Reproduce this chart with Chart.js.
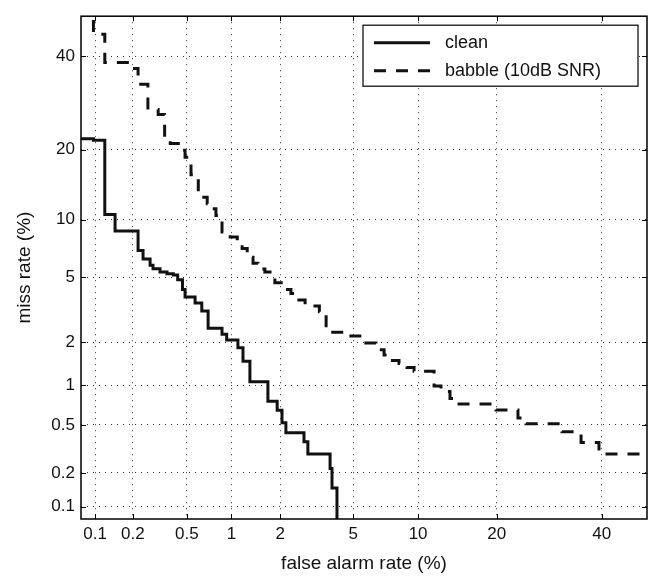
<!DOCTYPE html>
<html>
<head>
<meta charset="utf-8">
<style>
  html, body { margin: 0; padding: 0; background: #fff; }
  #wrap { width: 657px; height: 579px; }
</style>
<script src="https://cdn.jsdelivr.net/npm/chart.js@4.4.1/dist/chart.umd.min.js"></script>
</head>
<body>
<div id="wrap"><canvas id="c" width="657" height="579"></canvas></div>
<script>
// ---- data (percent) ----
const tickValues = [0.1, 0.2, 0.5, 1, 2, 5, 10, 20, 40];
const axisMin = 0.0765;
const axisMax = 50;

const seriesNames = ['clean', 'babble (10dB SNR)'];

const cleanFA   = [0.07, 0.097, 0.12, 0.145, 0.219, 0.239, 0.27, 0.284, 0.32, 0.36, 0.40, 0.43, 0.465, 0.485, 0.57, 0.634, 0.70, 0.867, 0.93, 1.10, 1.185, 1.31, 1.69, 1.92, 2.05, 2.16, 2.74, 2.88, 3.80, 3.89, 4.13];
const cleanMiss = [22.0, 21.7, 10.56, 8.78, 6.98, 6.30, 5.83, 5.57, 5.35, 5.22, 5.15, 4.83, 4.25, 3.84, 3.53, 3.16, 2.46, 2.25, 2.06, 1.83, 1.48, 1.06, 0.76, 0.65, 0.52, 0.433, 0.366, 0.29, 0.218, 0.147, 0.05];

const babbleFA   = [0.097, 0.097, 0.12, 0.193, 0.219, 0.26, 0.31, 0.346, 0.38, 0.465, 0.485, 0.534, 0.60, 0.637, 0.69, 0.72, 0.79, 0.867, 0.98, 1.09, 1.17, 1.26, 1.37, 1.47, 1.62, 1.74, 1.86, 2.13, 2.31, 2.50, 2.78, 3.33, 3.62, 4.60, 5.53, 6.46, 7.05, 7.51, 8.25, 8.95, 9.61, 11.66, 12.44, 13.5, 14.1, 19.9, 23.5, 24.9, 31.7, 35.6, 39.4, 60];
const babbleMiss = [60, 45.5, 38.5, 37.1, 33.4, 27.8, 26.8, 22.2, 21.1, 19.9, 18.7, 15.9, 13.4, 12.7, 11.85, 11.25, 10.45, 8.68, 8.21, 7.57, 7.15, 6.43, 5.97, 5.55, 5.35, 5.02, 4.65, 4.25, 4.03, 3.68, 3.39, 3.12, 2.32, 2.19, 1.97, 1.78, 1.64, 1.50, 1.43, 1.34, 1.26, 0.99, 0.90, 0.80, 0.727, 0.654, 0.567, 0.51, 0.44, 0.36, 0.29, 0.29];

// ---- normal deviate (probit) scale ----
function probit(p) {
  const a = [-3.969683028665376e+01, 2.209460984245205e+02, -2.759285104469687e+02, 1.383577518672690e+02, -3.066479806614716e+01, 2.506628277459239e+00];
  const b = [-5.447609879822406e+01, 1.615858368580409e+02, -1.556989798598866e+02, 6.680131188771972e+01, -1.328068155288572e+01];
  const c = [-7.784894002430293e-03, -3.223964580411365e-01, -2.400758277161838e+00, -2.549732539343734e+00, 4.374664141464968e+00, 2.938163982698783e+00];
  const d = [7.784695709041462e-03, 3.224671290700398e-01, 2.445134137142996e+00, 3.754408661907416e+00];
  const pl = 0.02425, ph = 1 - pl;
  let q, r;
  if (p < pl) {
    q = Math.sqrt(-2 * Math.log(p));
    return (((((c[0]*q+c[1])*q+c[2])*q+c[3])*q+c[4])*q+c[5]) / ((((d[0]*q+d[1])*q+d[2])*q+d[3])*q+1);
  }
  if (p <= ph) {
    q = p - 0.5; r = q * q;
    return (((((a[0]*r+a[1])*r+a[2])*r+a[3])*r+a[4])*r+a[5])*q / (((((b[0]*r+b[1])*r+b[2])*r+b[3])*r+b[4])*r+1);
  }
  q = Math.sqrt(-2 * Math.log(1 - p));
  return -(((((c[0]*q+c[1])*q+c[2])*q+c[3])*q+c[4])*q+c[5]) / ((((d[0]*q+d[1])*q+d[2])*q+d[3])*q+1);
}
function normcdf(z) {
  const t = 1 / (1 + 0.2316419 * Math.abs(z));
  const y = t*(0.319381530 + t*(-0.356563782 + t*(1.781477937 + t*(-1.821255978 + t*1.330274429))));
  const v = 1 - Math.exp(-z*z/2) / Math.sqrt(2*Math.PI) * y;
  return z >= 0 ? v : 1 - v;
}

class ProbitScale extends Chart.Scale {
  parse(raw) { return (raw === null || raw === undefined) ? null : +raw; }
  determineDataLimits() { this.min = this.options.min; this.max = this.options.max; }
  buildTicks() { return (this.options.tickValues || []).map(v => ({ value: v })); }
  getLabelForValue(v) { return String(v); }
  configure() {
    super.configure();
    this._z0 = probit(this.min / 100);
    this._z1 = probit(this.max / 100);
  }
  getPixelForValue(v) {
    if (v === null || v === undefined || isNaN(v)) return NaN;
    return this.getPixelForDecimal((probit(v / 100) - this._z0) / (this._z1 - this._z0));
  }
  getValueForPixel(px) {
    const dec = this.getDecimalForPixel(px);
    return 100 * normcdf(this._z0 + dec * (this._z1 - this._z0));
  }
  getPixelForTick(i) { return this.getPixelForValue(this.ticks[i].value); }
}
ProbitScale.id = 'probit';
ProbitScale.defaults = {};
Chart.register(ProbitScale);

const FONT = '"Liberation Sans", Arial, Helvetica, sans-serif';
const INK = '#111';

// inward tick marks + axes box
const framePlugin = {
  id: 'frame',
  afterDatasetsDraw(chart) {
    const { ctx, chartArea: a, scales: { x, y } } = chart;
    const L = 5;
    ctx.save();
    ctx.strokeStyle = '#000';
    ctx.lineWidth = 1;
    ctx.beginPath();
    x.ticks.forEach(t => {
      const px = Math.round(x.getPixelForValue(t.value)) + 0.5;
      ctx.moveTo(px, a.bottom); ctx.lineTo(px, a.bottom - L);
      ctx.moveTo(px, a.top); ctx.lineTo(px, a.top + L);
    });
    y.ticks.forEach(t => {
      const py = Math.round(y.getPixelForValue(t.value)) + 0.5;
      ctx.moveTo(a.left, py); ctx.lineTo(a.left + L, py);
      ctx.moveTo(a.right, py); ctx.lineTo(a.right - L, py);
    });
    ctx.stroke();
    ctx.lineWidth = 1.5;
    ctx.strokeRect(a.left, a.top, a.right - a.left, a.bottom - a.top);
    ctx.restore();
  }
};

// boxed legend in the upper-right corner of the axes
const legendPlugin = {
  id: 'boxLegend',
  afterDraw(chart) {
    const { ctx, chartArea: a } = chart;
    const w = 275, h = 61;
    const bx = a.right - 9 - w, by = a.top + 9;
    ctx.save();
    ctx.fillStyle = '#fff';
    ctx.fillRect(bx, by, w, h);
    ctx.strokeStyle = '#000';
    ctx.lineWidth = 1.2;
    ctx.strokeRect(bx, by, w, h);
    const rows = [by + 17.5, by + 45.5];
    chart.data.datasets.forEach((ds, i) => {
      const yy = rows[i];
      ctx.beginPath();
      ctx.strokeStyle = ds.borderColor;
      ctx.lineWidth = ds.borderWidth;
      ctx.setLineDash(ds.borderDash || []);
      ctx.moveTo(bx + 11, yy); ctx.lineTo(bx + 67, yy);
      ctx.stroke();
      ctx.setLineDash([]);
      ctx.fillStyle = INK;
      ctx.font = '18px ' + FONT;
      ctx.textAlign = 'left';
      ctx.textBaseline = 'middle';
      ctx.fillText(ds.label, bx + 82, yy);
    });
    ctx.restore();
  }
};

function pts(xs, ys) { return xs.map((v, i) => ({ x: v, y: ys[i] })); }

const gridOpts = { color: '#333', lineWidth: 1, drawTicks: false, drawOnChartArea: true };
const borderOpts = { display: false, dash: [1, 5] };

new Chart(document.getElementById('c'), {
  type: 'line',
  data: {
    datasets: [
      { label: seriesNames[0], data: pts(cleanFA, cleanMiss), borderColor: '#111', borderWidth: 3, stepped: 'before', pointRadius: 0, fill: false, clip: 0 },
      { label: seriesNames[1], data: pts(babbleFA, babbleMiss), borderColor: '#111', borderWidth: 3, borderDash: [12, 10], stepped: 'before', pointRadius: 0, fill: false, clip: 0 }
    ]
  },
  options: {
    responsive: false,
    devicePixelRatio: 1,
    animation: false,
    events: [],
    layout: { padding: { top: 4, right: 10, bottom: 0, left: 0 } },
    plugins: { legend: { display: false }, tooltip: { enabled: false } },
    scales: {
      x: {
        type: 'probit', position: 'bottom',
        min: axisMin, max: axisMax, tickValues: tickValues,
        grid: gridOpts, border: borderOpts,
        ticks: { color: INK, font: { family: FONT, size: 17 }, padding: 5, maxRotation: 0, autoSkip: false },
        title: { display: true, text: 'false alarm rate (%)', color: INK, font: { family: FONT, size: 19 }, padding: { top: 0, bottom: 4 } },
        afterFit: (s) => { s.height = 60; }
      },
      y: {
        type: 'probit', position: 'left',
        min: axisMin, max: axisMax, tickValues: tickValues,
        grid: gridOpts, border: borderOpts,
        ticks: { color: INK, font: { family: FONT, size: 17 }, padding: 6, autoSkip: false },
        title: { display: true, text: 'miss rate (%)', color: INK, font: { family: FONT, size: 19 }, padding: { top: 13.5, bottom: 0 } },
        afterFit: (s) => { s.width = 81; }
      }
    }
  },
  plugins: [framePlugin, legendPlugin]
});
</script>
</body>
</html>
